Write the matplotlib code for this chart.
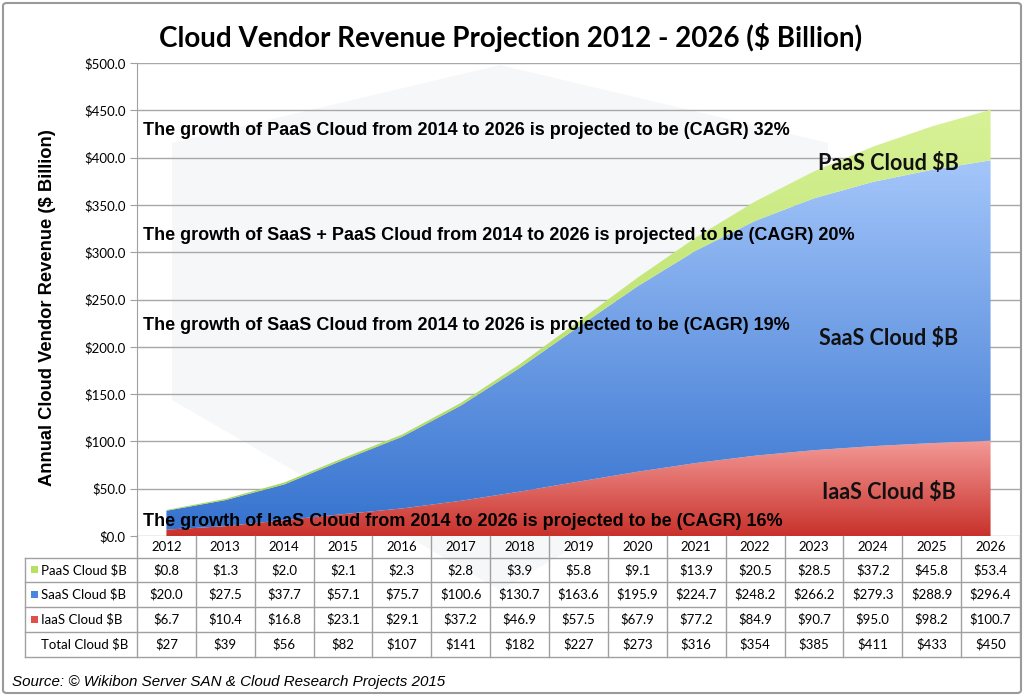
import matplotlib
matplotlib.use("Agg")
import matplotlib.pyplot as plt
import numpy as np
from matplotlib.colors import LinearSegmentedColormap
from matplotlib.patches import Rectangle, Polygon, FancyBboxPatch

years = [2012, 2013, 2014, 2015, 2016, 2017, 2018, 2019, 2020, 2021, 2022, 2023, 2024, 2025, 2026]
paas = [0.8, 1.3, 2.0, 2.1, 2.3, 2.8, 3.9, 5.8, 9.1, 13.9, 20.5, 28.5, 37.2, 45.8, 53.4]
saas = [20.0, 27.5, 37.7, 57.1, 75.7, 100.6, 130.7, 163.6, 195.9, 224.7, 248.2, 266.2, 279.3, 288.9, 296.4]
iaas = [6.7, 10.4, 16.8, 23.1, 29.1, 37.2, 46.9, 57.5, 67.9, 77.2, 84.9, 90.7, 95.0, 98.2, 100.7]
total = [27, 39, 56, 82, 107, 141, 182, 227, 273, 316, 354, 385, 411, 433, 450]
row_labels = ["PaaS Cloud $B", "SaaS Cloud $B", "IaaS Cloud $B", "Total Cloud $B"]
notes = [
    "The growth of PaaS Cloud from 2014 to 2026 is projected to be (CAGR) 32%",
    "The growth of SaaS + PaaS Cloud from 2014 to 2026 is projected to be (CAGR) 20%",
    "The growth of SaaS Cloud from 2014 to 2026 is projected to be (CAGR) 19%",
    "The growth of IaaS Cloud from 2014 to 2026 is projected to be (CAGR) 16%",
]

W, H = 1024, 696


def fx(px):
    return px / W


def fy(py):
    return 1 - py / H


def grad_fill(ax, x, lo, hi, top_color, bottom_color):
    poly = ax.fill_between(x, lo, hi, facecolor="none", edgecolor="none")
    cmap = LinearSegmentedColormap.from_list("g", [bottom_color, top_color])
    grad = np.linspace(0, 1, 256).reshape(-1, 1)
    im = ax.imshow(grad, cmap=cmap, aspect="auto", origin="lower",
                   extent=[x[0], x[-1], min(lo), max(hi)], zorder=2)
    im.set_clip_path(poly.get_paths()[0], transform=ax.transData)


fig = plt.figure(figsize=(10.24, 6.96), dpi=100)

# faint background hexagon (watermark)
hexagon = Polygon([[fx(500), fy(65)], [fx(172), fy(143)], [fx(172), fy(400)],
                   [fx(500), fy(590)], [fx(828), fy(400)], [fx(828), fy(143)]],
                  closed=True, transform=fig.transFigure, facecolor="#f6f7f9",
                  edgecolor="none", zorder=-10)
fig.patches.append(hexagon)

ax = fig.add_axes([fx(137), fy(536), fx(1020) - fx(137), fy(63) - fy(536)])
ax.set_facecolor("none")
x = np.arange(len(years))
b1 = np.array(iaas)
b2 = b1 + np.array(saas)
b3 = b2 + np.array(paas)

grad_fill(ax, x, np.zeros(len(x)), b1, "#f39a97", "#c9312b")
grad_fill(ax, x, b1, b2, "#a4c6fa", "#3673cf")
grad_fill(ax, x, b2, b3, "#d8f296", "#a9d656")

ax.set_xlim(-0.5, len(years) - 0.5)
ax.set_ylim(0, 500)
ax.set_yticks(range(0, 501, 50))
ax.set_yticklabels([f"${v:.1f}" for v in range(0, 501, 50)], fontfamily="Lato", fontsize=9.5)
ax.set_xticks([])
ax.yaxis.grid(True, color="#a8a8a8", lw=1)
ax.set_axisbelow(True)
for s in ["top", "right", "bottom"]:
    ax.spines[s].set_visible(False)
ax.spines["left"].set_color("#a0a0a0")
ax.tick_params(axis="y", length=5, color="#a0a0a0", pad=3)

note_y = [429, 318, 222, 15]
for txt, yv in zip(notes, note_y):
    ax.text(-0.4, yv, txt, fontfamily="Liberation Sans", fontweight="bold",
            fontsize=13, va="center", ha="left", zorder=5)

for txt, yv in zip(["PaaS Cloud $B", "SaaS Cloud $B", "IaaS Cloud $B"], [394, 209, 46]):
    ax.text(12.27, yv, txt, fontfamily="Lato", fontweight="bold", fontsize=15.5,
            va="center", ha="center", color="#111111", zorder=5)

# data table
unit = (1020 - 137) / len(years)
left = -0.5 - (137 - 25) / unit
tax = fig.add_axes([fx(25), fy(657), fx(1020) - fx(25), fy(536) - fy(657)])
tax.set_xlim(left, len(years) - 0.5)
tax.set_ylim(657, 536)
tax.axis("off")
rows = [536, 558, 582, 607, 632, 657]
lc = "#a0a0a0"
for k in range(len(years) + 1):
    tax.plot([k - 0.5, k - 0.5], [536, 657], color=lc, lw=1, clip_on=False)
tax.plot([left, left], [558, 657], color=lc, lw=1, clip_on=False)
for r in rows[1:]:
    tax.plot([left, len(years) - 0.5], [r, r], color=lc, lw=1, clip_on=False)

for i, yr in enumerate(years):
    tax.text(i, (rows[0] + rows[1]) / 2, str(yr), ha="center", va="center",
             fontfamily="Lato", fontsize=9.5)

table_data = [paas, saas, iaas, total]
sq_colors = ["#b5e061", "#4a86dc", "#e0504a", None]
for r, (lab, vals, c) in enumerate(zip(row_labels, table_data, sq_colors)):
    yc = (rows[r + 1] + rows[r + 2]) / 2
    if c is not None:
        tax.add_patch(Rectangle((left + 0.1, yc - 3.5), 0.12, 7, facecolor=c,
                                edgecolor="none", clip_on=False))
    tax.text(left + 0.28, yc, lab, ha="left", va="center", fontfamily="Lato", fontsize=9.5)
    for i, v in enumerate(vals):
        s = f"${v:.0f}" if lab.startswith("Total") else f"${v:.1f}"
        tax.text(i, yc, s, ha="center", va="center", fontfamily="Lato", fontsize=9.5)

fig.text(fx(511), fy(38), "Cloud Vendor Revenue Projection 2012 - 2026 ($ Billion)",
         ha="center", va="center", fontfamily="Lato", fontweight="bold", fontsize=20)
fig.text(fx(48), fy(308), "Annual Cloud Vendor Revenue ($ Billion)", rotation=90,
         ha="center", va="center", fontfamily="Liberation Sans", fontweight="bold", fontsize=13.2)
fig.text(fx(12), fy(682), "Source: © Wikibon Server SAN & Cloud Research Projects 2015",
         ha="left", va="center", fontfamily="Liberation Sans", fontstyle="italic", fontsize=10.9)

border = FancyBboxPatch((fx(3), fy(693)), fx(1018), 1 - fy(690), transform=fig.transFigure,
                        boxstyle="round,pad=0,rounding_size=0.004", facecolor="none",
                        edgecolor="#9a9a9a", lw=1.5, zorder=10)
fig.patches.append(border)

fig.savefig("out.png", dpi=100)
